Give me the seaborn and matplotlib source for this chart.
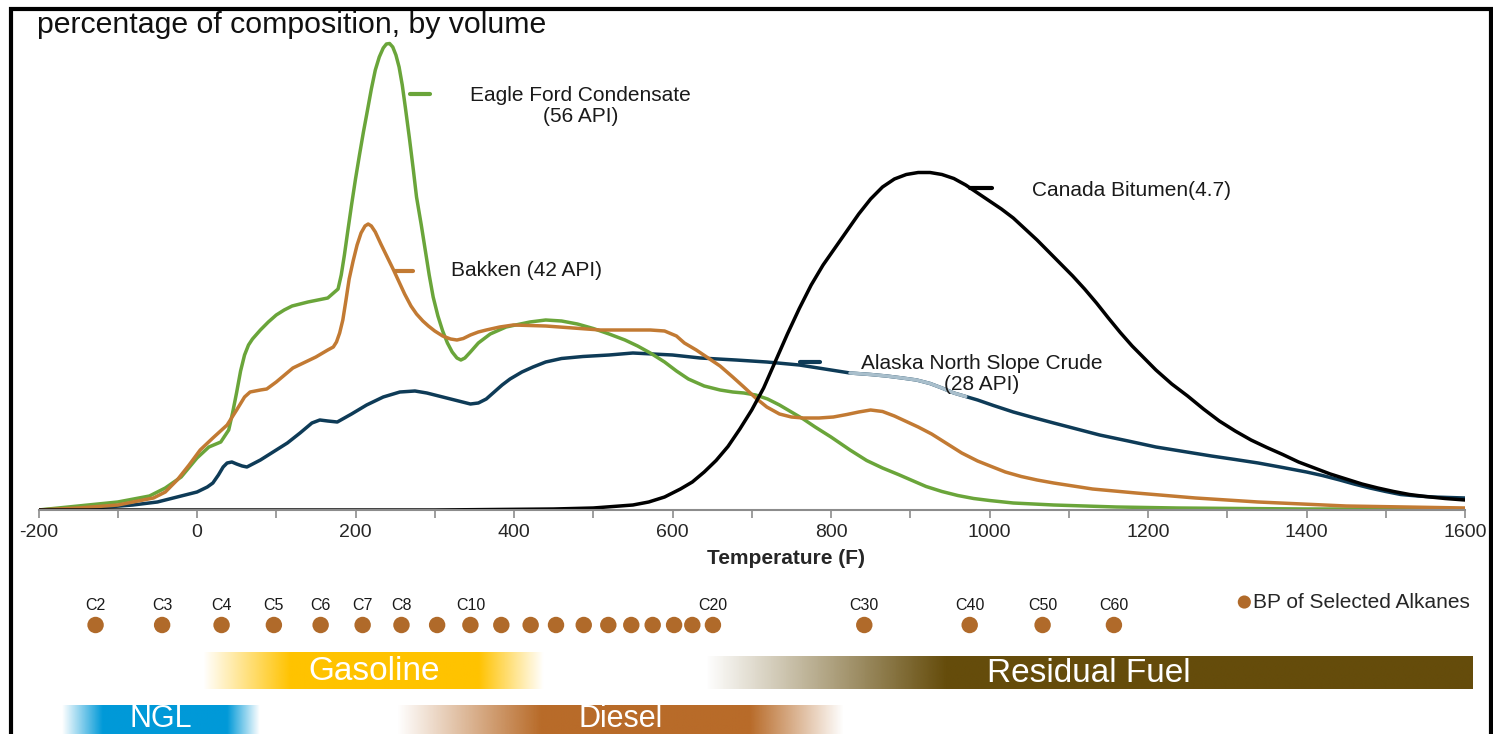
import numpy as np
import matplotlib.pyplot as plt
import seaborn as sns
from matplotlib.colors import to_rgb
from matplotlib.patches import Rectangle

# ---- curve data: temperature (F) vs share of composition ----
eagle_t = [-200, -150, -100, -60, -40, -20, 0, 15, 30, 40, 45, 50, 55, 60, 65, 70, 80, 90, 100,
           110, 120, 140, 165, 178, 182, 186, 190, 195, 200, 205, 210, 214, 220, 225, 230, 235,
           239, 243, 247, 251, 255, 259, 263, 268, 273, 277, 283, 288, 293, 298, 304, 310, 316,
           322, 328, 333, 338, 345, 355, 370, 390, 420, 440, 460, 480, 500, 520, 540, 556, 572,
           590, 605, 620, 640, 660, 676, 690, 705, 720, 735, 750, 765, 780, 800, 824, 845, 865,
           885, 901, 920, 940, 960, 980, 1000, 1030, 1081, 1160, 1237, 1400, 1600]
eagle_v = [0, 0.08, 0.16, 0.28, 0.44, 0.66, 1.04, 1.26, 1.36, 1.60, 1.95, 2.35, 2.78, 3.10, 3.30,
           3.42, 3.60, 3.76, 3.90, 4.00, 4.08, 4.16, 4.24, 4.42, 4.70, 5.10, 5.55, 6.10, 6.62,
           7.10, 7.56, 7.90, 8.42, 8.80, 9.06, 9.24, 9.32, 9.33, 9.26, 9.10, 8.86, 8.50, 8.04,
           7.44, 6.80, 6.26, 5.70, 5.20, 4.70, 4.26, 3.88, 3.58, 3.34, 3.16, 3.04, 3.00, 3.04,
           3.16, 3.34, 3.52, 3.66, 3.76, 3.80, 3.78, 3.72, 3.63, 3.52, 3.40, 3.28, 3.14, 2.96,
           2.78, 2.62, 2.48, 2.40, 2.36, 2.34, 2.30, 2.22, 2.10, 1.96, 1.82, 1.66, 1.46, 1.20,
           0.99, 0.84, 0.71, 0.60, 0.47, 0.37, 0.29, 0.23, 0.19, 0.14, 0.10, 0.06, 0.04, 0.02,
           0.02]

bakken_t = [-200, -150, -100, -55, -40, -25, -10, 4, 20, 38, 50, 60, 67, 80, 88, 100, 121, 150,
            165, 172, 176, 180, 184, 188, 192, 197, 202, 207, 212, 216, 220, 225, 232, 240, 248,
            255, 262, 270, 277, 285, 292, 300, 310, 320, 328, 336, 345, 355, 365, 382, 399, 440,
            509, 572, 590, 605, 615, 630, 645, 660, 676, 690, 705, 719, 735, 750, 765, 785, 803,
            820, 835, 850, 865, 880, 895, 910, 927, 945, 965, 985, 1004, 1020, 1040, 1060, 1081,
            1130, 1185, 1260, 1339, 1450, 1600]
bakken_v = [0, 0.04, 0.10, 0.24, 0.36, 0.60, 0.90, 1.20, 1.44, 1.70, 2.00, 2.26, 2.36, 2.40, 2.42,
            2.56, 2.84, 3.06, 3.20, 3.26, 3.36, 3.54, 3.80, 4.20, 4.62, 4.98, 5.30, 5.54, 5.68,
            5.72, 5.68, 5.56, 5.32, 5.06, 4.80, 4.56, 4.32, 4.08, 3.92, 3.78, 3.68, 3.58, 3.48,
            3.42, 3.40, 3.43, 3.50, 3.56, 3.60, 3.66, 3.70, 3.68, 3.60, 3.60, 3.58, 3.48, 3.34,
            3.20, 3.04, 2.88, 2.66, 2.46, 2.24, 2.06, 1.92, 1.86, 1.84, 1.84, 1.86, 1.91, 1.96,
            2.00, 1.97, 1.88, 1.77, 1.66, 1.52, 1.34, 1.14, 0.98, 0.86, 0.76, 0.67, 0.60, 0.54,
            0.42, 0.34, 0.24, 0.16, 0.08, 0.04]

alaska_t = [-200, -130, -81, -50, -25, 0, 13, 20, 27, 33, 38, 44, 50, 57, 63, 80, 100, 114, 130,
            145, 155, 165, 177, 195, 214, 235, 256, 275, 290, 320, 345, 355, 365, 375, 385, 395,
            410, 424, 440, 460, 487, 520, 550, 600, 635, 680, 719, 760, 800, 824, 850, 870, 890,
            908, 925, 940, 955, 970, 985, 1005, 1030, 1055, 1081, 1110, 1139, 1175, 1210, 1245,
            1280, 1310, 1339, 1370, 1400, 1420, 1442, 1460, 1480, 1500, 1519, 1540, 1560, 1580,
            1600]
alaska_v = [0, 0.04, 0.10, 0.16, 0.26, 0.36, 0.46, 0.54, 0.70, 0.86, 0.94, 0.96, 0.92, 0.88, 0.86,
            1.00, 1.20, 1.34, 1.54, 1.74, 1.80, 1.78, 1.76, 1.92, 2.10, 2.26, 2.36, 2.38, 2.34,
            2.22, 2.12, 2.14, 2.22, 2.36, 2.50, 2.62, 2.76, 2.86, 2.96, 3.03, 3.07, 3.10, 3.14,
            3.10, 3.04, 3.00, 2.96, 2.90, 2.80, 2.74, 2.71, 2.68, 2.64, 2.60, 2.53, 2.44, 2.34,
            2.27, 2.20, 2.09, 1.96, 1.85, 1.74, 1.62, 1.50, 1.38, 1.26, 1.17, 1.08, 1.01, 0.94,
            0.85, 0.76, 0.69, 0.60, 0.52, 0.44, 0.37, 0.31, 0.28, 0.26, 0.25, 0.24]

bitumen_t = [-200, 300, 450, 500, 550, 570, 590, 610, 625, 640, 655, 670, 685, 700, 715, 730, 745,
             760, 775, 790, 805, 820, 835, 850, 865, 880, 895, 910, 925, 940, 955, 970, 985, 1000,
             1015, 1030, 1045, 1060, 1075, 1090, 1105, 1120, 1135, 1150, 1165, 1180, 1195, 1210,
             1230, 1250, 1270, 1290, 1310, 1330, 1350, 1370, 1390, 1410, 1430, 1450, 1470, 1490,
             1510, 1530, 1550, 1575, 1600]
bitumen_v = [0, 0, 0.02, 0.04, 0.10, 0.16, 0.26, 0.42, 0.56, 0.76, 0.99, 1.27, 1.62, 2.00, 2.44,
             2.98, 3.52, 4.03, 4.50, 4.90, 5.24, 5.58, 5.92, 6.22, 6.46, 6.62, 6.71, 6.75, 6.75,
             6.71, 6.63, 6.50, 6.34, 6.18, 6.02, 5.84, 5.62, 5.40, 5.16, 4.92, 4.68, 4.42, 4.14,
             3.84, 3.55, 3.28, 3.04, 2.80, 2.52, 2.28, 2.02, 1.78, 1.58, 1.40, 1.25, 1.11, 0.96,
             0.84, 0.72, 0.62, 0.52, 0.44, 0.37, 0.31, 0.27, 0.23, 0.20]

# boiling points of selected alkanes (F)
alkane_bp = [-128, -44, 31, 97, 156, 209, 258, 303, 345, 384, 421, 453, 488, 519, 548, 575, 602,
             625, 651, 842, 975, 1067, 1157]
alkane_names = ["C2", "C3", "C4", "C5", "C6", "C7", "C8", "", "C10", "", "", "", "", "", "", "",
                "", "", "C20", "C30", "C40", "C50", "C60"]

# product cut bands: start, solid start, solid end, end (F)
band_names = ["Gasoline", "Residual Fuel", "NGL", "Diesel"]
band_start = [8, 641, -170, 252]
band_full_from = [118, 944, -119, 433]
band_full_to = [356, 1610, 38, 698]
band_end = [438, 1610, 79, 816]
band_colors = ["#FFC300", "#654C0B", "#0099D8", "#B86B29"]

GREEN, ORANGE, NAVY, BLACK = "#6AA53A", "#C27A33", "#0E3B57", "#000000"

sns.set_style("white")
plt.rcParams["font.family"] = ["Liberation Sans", "DejaVu Sans"]
plt.rcParams["axes.unicode_minus"] = False

W, H = 1493, 734
fig = plt.figure(figsize=(W / 100, H / 100), dpi=100)
x_left, x_right = 38.5, 1465
ax = fig.add_axes([x_left / W, 1 - 510 / H, (x_right - x_left) / W, 480 / H])

line_kw = dict(lw=2.5, solid_joinstyle="round", solid_capstyle="round")
sns.lineplot(x=alaska_t, y=alaska_v, ax=ax, color=NAVY, **line_kw)
seg = [(t, v) for t, v in zip(alaska_t, alaska_v) if 824 <= t <= 978]
sns.lineplot(x=[s[0] for s in seg], y=[s[1] for s in seg], ax=ax, color="#A9BFCC", **line_kw)
sns.lineplot(x=eagle_t, y=eagle_v, ax=ax, color=GREEN, **line_kw)
sns.lineplot(x=bakken_t, y=bakken_v, ax=ax, color=ORANGE, **line_kw)
sns.lineplot(x=bitumen_t, y=bitumen_v, ax=ax, color=BLACK, **line_kw)

ax.set_xlim(-200, 1600)
ax.set_ylim(0, 9.6)
ax.set_yticks([])
for s in ["top", "right", "left"]:
    ax.spines[s].set_visible(False)
ax.spines["bottom"].set_color("#8C8C8C")
ax.spines["bottom"].set_linewidth(1.5)
ax.set_xticks(range(-200, 1601, 200))
ax.set_xticks(range(-100, 1600, 200), minor=True)
ax.tick_params(axis="x", which="both", direction="out", length=6, width=1.2,
               color="#8C8C8C", labelsize=14, pad=4, bottom=True)
ax.set_xlabel("Temperature (F)", fontsize=15, fontweight="bold")
ax.xaxis.set_label_coords((786 - x_left) / (x_right - x_left), -49 / 480)
ax.xaxis.label.set_va("center")

# series labels with key dashes
txt = dict(fontsize=15, color="#1A1A1A")
ax.plot([269, 294], [8.32, 8.32], color=GREEN, lw=3)
ax.text(484, 8.08, "Eagle Ford Condensate\n(56 API)", ha="center", va="center",
        multialignment="center", linespacing=1.15, **txt)
ax.plot([250, 273], [4.78, 4.78], color=ORANGE, lw=3)
ax.text(320, 4.78, "Bakken (42 API)", ha="left", va="center", **txt)
ax.plot([975, 1003], [6.44, 6.44], color=BLACK, lw=3)
ax.text(1054, 6.38, "Canada Bitumen(4.7)", ha="left", va="center", **txt)
ax.plot([761, 786], [2.96, 2.96], color=NAVY, lw=3)
ax.text(990, 2.72, "Alaska North Slope Crude\n(28 API)", ha="center", va="center",
        multialignment="center", linespacing=1.15, **txt)

fig.text(37 / W, 1 - 25 / H, "percentage of composition, by volume", fontsize=21.8,
         ha="left", va="center", color="#111111")

# lower panel: alkane boiling points and product bands
bx = fig.add_axes([x_left / W, 0, (x_right - x_left) / W, 160 / H])
bx.set_xlim(-200, 1600)
bx.set_ylim(0, 160)
bx.axis("off")

sns.scatterplot(x=alkane_bp, y=[109] * len(alkane_bp), ax=bx, s=140, color="#B06A2A",
                edgecolor="none", label="BP of Selected Alkanes", legend=True)
for bp, name in zip(alkane_bp, alkane_names):
    if name:
        bx.text(bp, 129, name, ha="center", va="center", fontsize=11.5, color="#1A1A1A")
bx.legend(loc="center left", bbox_to_anchor=(1236 / W, 1 - 602 / H),
          bbox_transform=fig.transFigure, frameon=False, fontsize=15,
          handletextpad=0.0, handlelength=0.8, borderpad=0, borderaxespad=0, markerscale=0.8)

band_y = [(45, 82), (45, 78), (-10, 29), (-10, 29)]
text_y = [63, 61, 15, 15]
text_size = [24, 24, 22, 22]
for i, name in enumerate(band_names):
    x0, x1 = band_start[i], band_end[i]
    xs = np.linspace(x0, x1, 600)
    a_in = np.clip((xs - x0) / max(band_full_from[i] - x0, 1e-9), 0, 1)
    a_out = np.clip((x1 - xs) / max(x1 - band_full_to[i], 1e-9), 0, 1)
    if band_full_to[i] >= x1:
        a_out = np.ones_like(xs)
    rgba = np.zeros((1, len(xs), 4))
    rgba[..., :3] = to_rgb(band_colors[i])
    rgba[0, :, 3] = a_in * a_out
    y0, y1 = band_y[i]
    bx.imshow(rgba, extent=[x0, x1, y0, y1], aspect="auto", interpolation="bilinear",
              clip_on=False, zorder=1)
    bx.text((x0 + x1) / 2, text_y[i], name, ha="center", va="center", color="white",
            fontsize=text_size[i], zorder=3, clip_on=False)
bx.set_xlim(-200, 1600)
bx.set_ylim(0, 160)

# outer frame
fig.add_artist(Rectangle((11 / W, -0.05), (1491 - 11) / W, 1.05 - 9 / H,
                         transform=fig.transFigure, fill=False, ec="black", lw=3))

fig.savefig("out.png", dpi=100)
